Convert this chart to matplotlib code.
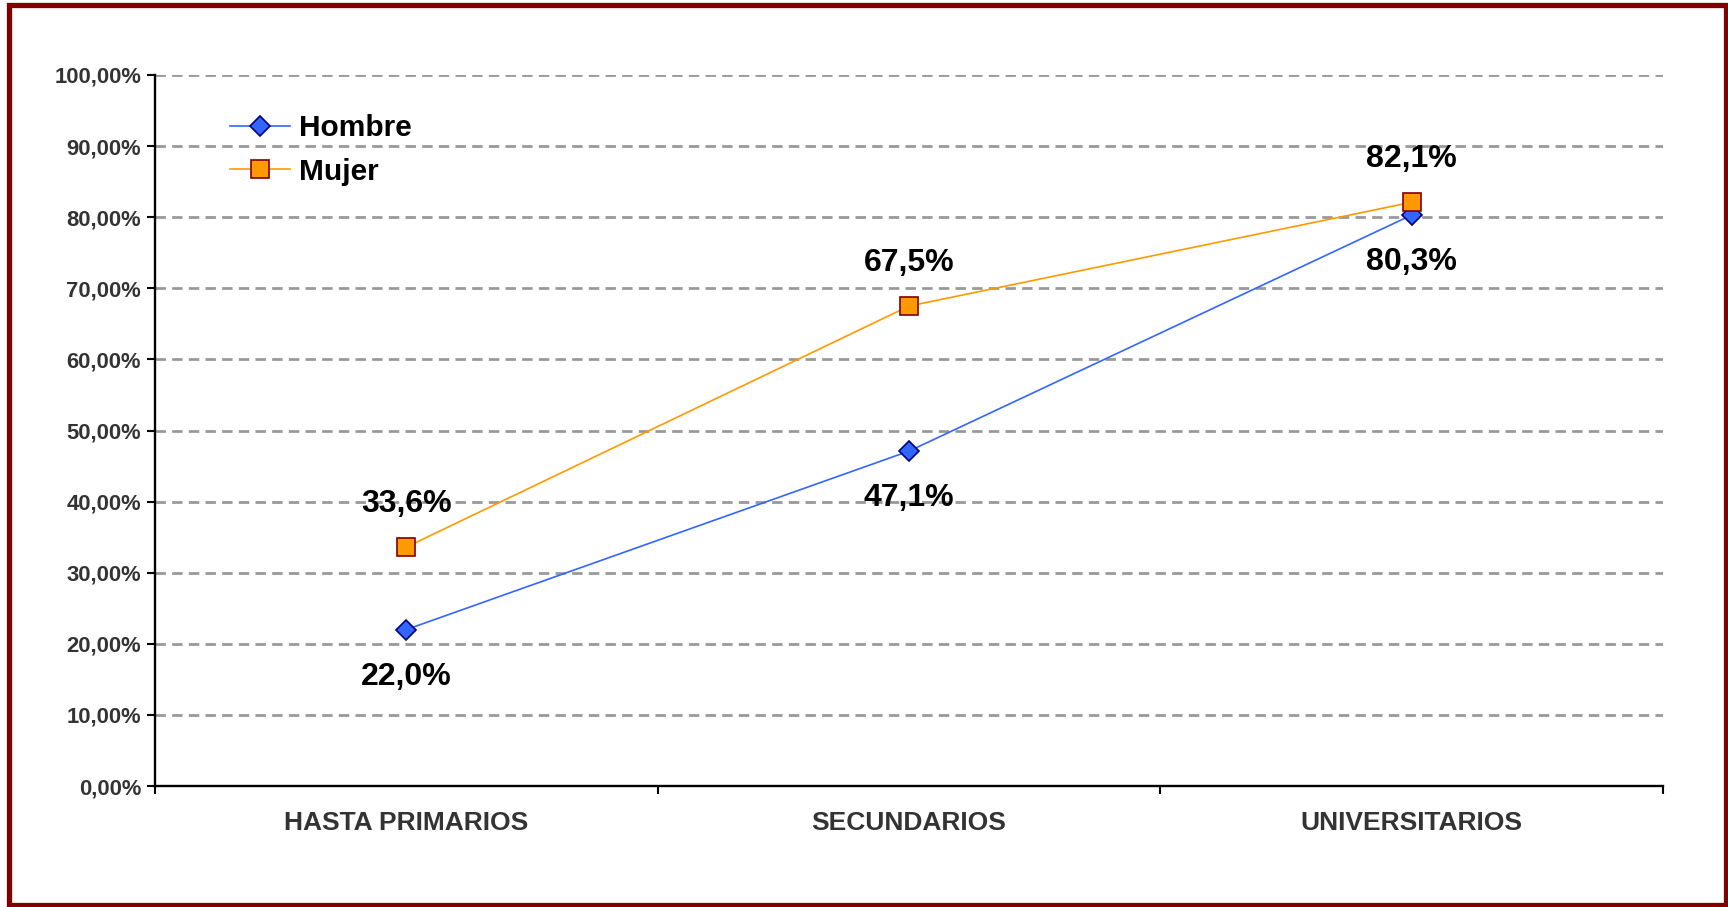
import matplotlib
matplotlib.use('Agg')
import matplotlib.pyplot as plt
from matplotlib.patches import Rectangle
from matplotlib.ticker import FixedLocator, NullFormatter

plt.rcParams['font.family'] = ['Liberation Sans', 'DejaVu Sans']
plt.rcParams['font.weight'] = 'bold'
plt.rcParams['lines.scale_dashes'] = False

categories = ['HASTA PRIMARIOS', 'SECUNDARIOS', 'UNIVERSITARIOS']
hombre = [22.0, 47.1, 80.3]
mujer = [33.6, 67.5, 82.1]
yticks = [0, 10, 20, 30, 40, 50, 60, 70, 80, 90, 100]

fig = plt.figure(figsize=(17.28, 9.07), dpi=100)
ax = fig.add_axes([155/1728, 1 - 786/907, 1508/1728, 711/907])

x = list(range(len(categories)))

# grid lines
for v in yticks[1:]:
    ax.axhline(v, color='#999999', lw=2.0, dashes=(7.5, 4.5), zorder=1)

ax.plot(x, hombre, color='#3366FF', lw=1.2, marker='D', markersize=10.5,
        markerfacecolor='#3366FF', markeredgecolor='#000080', markeredgewidth=1.2,
        label='Hombre', zorder=3)
ax.plot(x, mujer, color='#FF9900', lw=1.2, marker='s', markersize=12.5,
        markerfacecolor='#FF9900', markeredgecolor='#800000', markeredgewidth=1.2,
        label='Mujer', zorder=4)

def fmt(v):
    return ('%.1f%%' % v).replace('.', ',')

for xi, v in zip(x, hombre):
    ax.annotate(fmt(v), (xi, v), xytext=(0, -34), textcoords='offset points',
                ha='center', va='center', fontsize=23, fontweight='bold', color='black')
for xi, v in zip(x, mujer):
    ax.annotate(fmt(v), (xi, v), xytext=(0, 31), textcoords='offset points',
                ha='center', va='center', fontsize=23, fontweight='bold', color='black')

ax.set_xlim(-0.5, 2.5)
ax.set_ylim(0, 100)
ax.set_yticks(yticks)
ax.set_yticklabels([('%.2f%%' % v).replace('.', ',') for v in yticks],
                   fontsize=15.8, fontweight='bold', color='#333333')
ax.set_xticks(x)
ax.set_xticklabels(categories, fontsize=19, fontweight='bold', color='#333333')
ax.tick_params(axis='x', which='major', length=0, pad=18)
ax.xaxis.set_minor_locator(FixedLocator([-0.5, 0.5, 1.5, 2.5]))
ax.xaxis.set_minor_formatter(NullFormatter())
ax.tick_params(axis='x', which='minor', length=6, width=1.5, color='black', direction='out')
ax.tick_params(axis='y', length=6, width=1.5, color='black', direction='out', pad=4)

for s in ['top', 'right']:
    ax.spines[s].set_visible(False)
for s in ['left', 'bottom']:
    ax.spines[s].set_linewidth(1.7)
    ax.spines[s].set_color('black')

leg = ax.legend(loc='upper left', bbox_to_anchor=(0.05, 0.945), frameon=False,
                fontsize=21.5, handlelength=2.0, handletextpad=0.3, labelspacing=0.52,
                borderpad=0, borderaxespad=0)
for t in leg.get_texts():
    t.set_fontweight('bold')

# outer dark red frame
fig.patches.append(Rectangle((8.5/1728, 2.5/907), 1717/1728, 900/907,
                             transform=fig.transFigure, fill=False,
                             edgecolor='#800000', lw=3.8, zorder=10))

fig.savefig('out.png', dpi=100, facecolor='white')
